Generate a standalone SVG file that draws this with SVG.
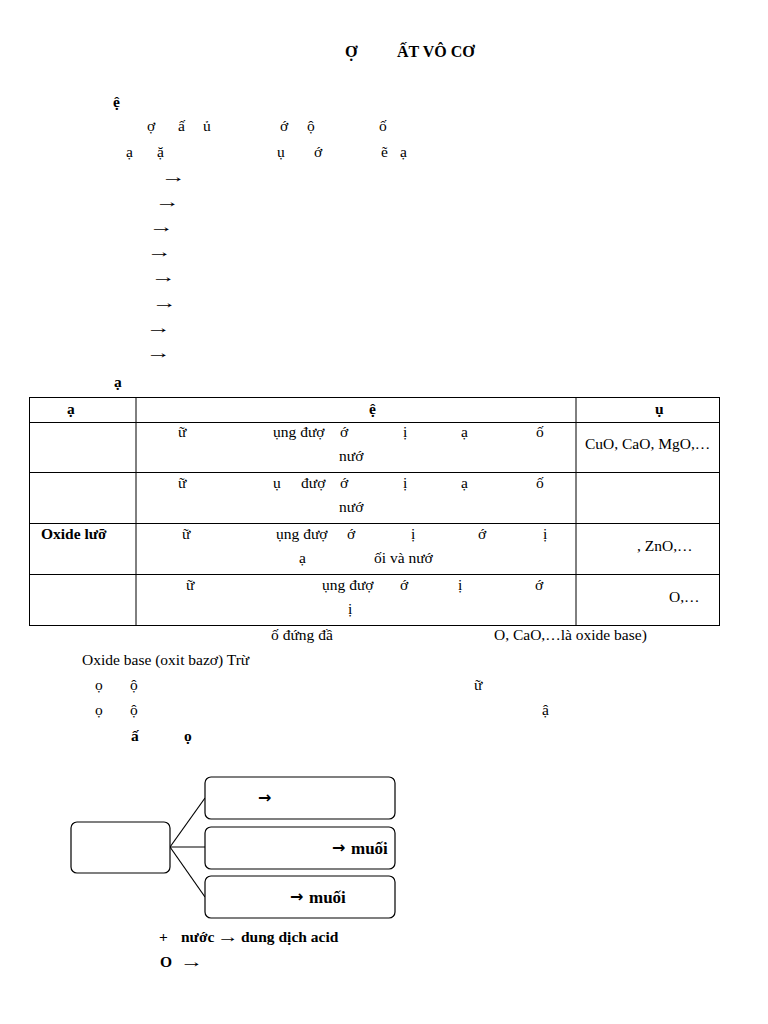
<svg xmlns="http://www.w3.org/2000/svg" width="768" height="1024" viewBox="0 0 768 1024">
<style>
text{font-family:"Liberation Serif","Times New Roman",serif;font-size:15.5px;fill:#000}
.b{font-weight:bold}
.t{font-size:16px;font-weight:bold}
.ab{font-family:"DejaVu Sans",sans-serif;font-size:16px;font-weight:bold}
.m{font-size:17px;font-weight:bold}
.cell{fill:none;stroke:#000;stroke-width:1}
.box{fill:#fff;stroke:#000;stroke-width:1.2}
.ln{stroke:#000;stroke-width:1.2;fill:none}
</style>
<rect width="768" height="1024" fill="#fff"/>
<g id="title">
<text class="t" x="345" y="57">Ợ</text>
<text class="t" x="397" y="57">ẤT VÔ CƠ</text>
</g>
<g id="intro">
<text class="b" x="113" y="107">ệ</text>
<text x="147" y="131">ợ</text><text x="178" y="131">ấ</text><text x="203" y="131">ủ</text><text x="280" y="131">ớ</text><text x="307" y="131">ộ</text><text x="379" y="131">ố</text>
<text x="126" y="157">ạ</text><text x="157" y="157">ặ</text><text x="277" y="157">ụ</text><text x="314" y="157">ớ</text><text x="381" y="157">ẽ</text><text x="400" y="157">ạ</text>
<text transform="translate(161 182) scale(1.6 1)">→</text>
<text transform="translate(155 207) scale(1.6 1)">→</text>
<text transform="translate(149 232) scale(1.6 1)">→</text>
<text transform="translate(147 257) scale(1.6 1)">→</text>
<text transform="translate(151 282) scale(1.6 1)">→</text>
<text transform="translate(152 308) scale(1.6 1)">→</text>
<text transform="translate(146 333) scale(1.6 1)">→</text>
<text transform="translate(146 358) scale(1.6 1)">→</text>
<text class="b" x="114" y="387">ạ</text>
</g>
<g id="table">
<rect class="cell" x="29.5" y="397.5" width="690" height="228"/>
<line class="cell" x1="136" y1="397.5" x2="136" y2="625.5"/>
<line class="cell" x1="576" y1="397.5" x2="576" y2="625.5"/>
<line class="cell" x1="29.5" y1="422.5" x2="719.5" y2="422.5"/>
<line class="cell" x1="29.5" y1="472.5" x2="719.5" y2="472.5"/>
<line class="cell" x1="29.5" y1="523.5" x2="719.5" y2="523.5"/>
<line class="cell" x1="29.5" y1="574.5" x2="719.5" y2="574.5"/>
<text class="b" x="67" y="414">ạ</text>
<text class="b" x="369" y="414">ệ</text>
<text class="b" x="655" y="414">ụ</text>
<text x="178" y="437">ữ</text><text x="273" y="437">ụng đượ</text><text x="340" y="437">ớ</text><text x="403" y="437">ị</text><text x="461" y="437">ạ</text><text x="536" y="437">ố</text>
<text x="339" y="461">nướ</text>
<text x="585" y="449">CuO, CaO, MgO,…</text>
<text x="178" y="488">ữ</text><text x="273" y="488">ụ</text><text x="301" y="488">đượ</text><text x="340" y="488">ớ</text><text x="403" y="488">ị</text><text x="461" y="488">ạ</text><text x="536" y="488">ố</text>
<text x="339" y="512">nướ</text>
<text class="b" x="41" y="539">Oxide lưỡ</text>
<text x="182" y="539">ữ</text><text x="276" y="539">ụng đượ</text><text x="347" y="539">ớ</text><text x="411" y="539">ị</text><text x="478" y="539">ớ</text><text x="543" y="539">ị</text>
<text x="299" y="563">ạ</text><text x="374" y="563">ối và nướ</text>
<text x="637" y="551">, ZnO,…</text>
<text x="186" y="590">ữ</text><text x="322" y="590">ụng đượ</text><text x="400" y="590">ớ</text><text x="458" y="590">ị</text><text x="535" y="590">ớ</text>
<text x="348" y="614">ị</text>
<text x="669" y="602">O,…</text>
</g>
<g id="notes">
<text x="271" y="640">ố đứng đầ</text>
<text x="494" y="640">O, CaO,…là oxide base)</text>
<text x="82" y="665">Oxide base (oxit bazơ) Trừ</text>
<text x="95" y="690">ọ</text><text x="130" y="690">ộ</text><text x="474" y="690">ữ</text>
<text x="95" y="715">ọ</text><text x="130" y="715">ộ</text><text x="542" y="715">ậ</text>
<text class="b" x="131" y="741">ấ</text><text class="b" x="184" y="741">ọ</text>
</g>
<g id="connectors">
<line class="ln" x1="170" y1="847" x2="205" y2="798"/>
<line class="ln" x1="170" y1="847" x2="205" y2="847"/>
<line class="ln" x1="170" y1="847" x2="205" y2="897"/>
</g>
<g id="root">
<rect class="box" x="71" y="822" width="99" height="51" rx="6"/>
</g>
<g id="box1">
<rect class="box" x="205" y="777" width="190" height="42" rx="6"/>
<text class="ab" x="258" y="803">→</text>
</g>
<g id="box2">
<rect class="box" x="205" y="827" width="190" height="42" rx="6"/>
<text class="ab" x="332" y="853">→</text><text class="m" x="351" y="854">muối</text>
</g>
<g id="box3">
<rect class="box" x="205" y="876" width="190" height="42" rx="6"/>
<text class="ab" x="290" y="902">→</text><text class="m" x="309" y="903">muối</text>
</g>
<g id="reactions">
<text class="b" x="159" y="942">+</text><text class="b" x="181" y="942">nước</text><text transform="translate(217 942) scale(1.4 1)">→</text><text class="b" x="241" y="942">dung dịch acid</text>
<text class="b" x="160" y="967">O</text><text transform="translate(180 967) scale(1.5 1)">→</text>
</g>
</svg>
